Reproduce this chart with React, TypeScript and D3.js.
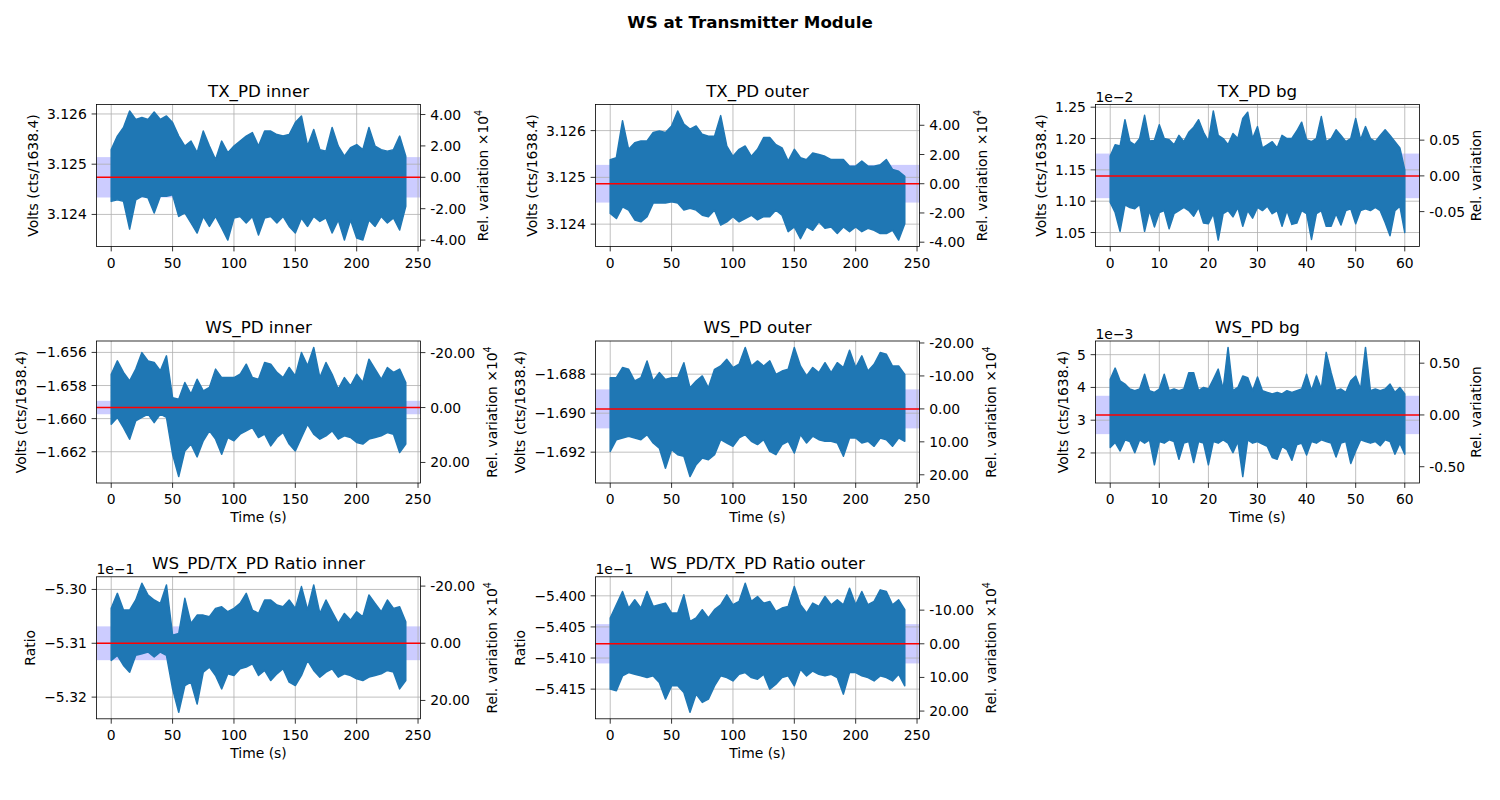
import React, { useRef, useEffect } from 'react';
import * as d3 from 'd3';

const W = 1500;
const H = 800;
const FONT = 'DejaVu Sans, sans-serif';
const BLUE = '#1f77b4';
const FS = 13.9;

// time axes (s)
const timeLong = [
  0, 5, 10, 15, 20, 25, 30, 35, 40, 45, 50, 55, 60, 65, 70, 75, 80, 85, 90, 95, 100, 105, 110, 115, 120,
  125, 130, 135, 140, 145, 150, 155, 160, 165, 170, 175, 180, 185, 190, 195, 200, 205, 210, 215, 220,
  225, 230, 235, 240,
];
const timeShort = [
  0, 1, 2, 3, 4, 5, 6, 7, 8, 9, 10, 11, 12, 13, 14, 15, 16, 17, 18, 19, 20, 21, 22, 23, 24, 25, 26, 27,
  28, 29, 30, 31, 32, 33, 34, 35, 36, 37, 38, 39, 40, 41, 42, 43, 44, 45, 46, 47, 48, 49, 50, 51, 52,
  53, 54, 55, 56, 57, 58, 59, 60,
];

// upper / lower envelope of each trace
const txInnerHi = [
  3.12529, 3.12556, 3.12573, 3.12606, 3.12589, 3.12593, 3.12589, 3.12604, 3.12589, 3.12596, 3.12583,
  3.12556, 3.12536, 3.12546, 3.12523, 3.12566, 3.12536, 3.12509, 3.12546, 3.12523, 3.12536, 3.12546,
  3.12556, 3.12563, 3.12536, 3.12566, 3.12566, 3.12559, 3.12556, 3.12559, 3.12583, 3.12596, 3.12536,
  3.12569, 3.12529, 3.12526, 3.12573, 3.12536, 3.12516, 3.12533, 3.12539, 3.12529, 3.12573, 3.12536,
  3.12529, 3.12526, 3.12529, 3.12556, 3.12516,
];
const txInnerLo = [
  3.12426, 3.12429, 3.12426, 3.12371, 3.12429, 3.12436, 3.12433, 3.12403, 3.12436, 3.12436, 3.12439,
  3.12396, 3.12403, 3.12383, 3.12363, 3.12396, 3.12376, 3.12396, 3.12373, 3.12349, 3.12393, 3.12396,
  3.12383, 3.12396, 3.12359, 3.12393, 3.12396, 3.12383, 3.12396, 3.12376, 3.12363, 3.12393, 3.12376,
  3.12396, 3.12386, 3.12393, 3.12363, 3.12389, 3.12349, 3.12389, 3.12353, 3.12349, 3.12389, 3.12376,
  3.12396, 3.12383, 3.12393, 3.12369, 3.12416,
];
const txInnerMean = 3.124739;
const txInnerStd = 0.000402;

const txOuterHi = [
  3.12538, 3.12542, 3.12621, 3.1256, 3.12574, 3.12578, 3.12578, 3.12596, 3.12599, 3.12596, 3.1261,
  3.12642, 3.12614, 3.12603, 3.1261, 3.12592, 3.12588, 3.12588, 3.12632, 3.12567, 3.12545, 3.1256,
  3.12567, 3.12545, 3.1256, 3.12585, 3.12585, 3.1257, 3.12563, 3.12535, 3.1256, 3.12542, 3.12538,
  3.12552, 3.12549, 3.12545, 3.12538, 3.12538, 3.12538, 3.12524, 3.12524, 3.12535, 3.12524, 3.12524,
  3.12527, 3.12538, 3.12517, 3.12513, 3.12502,
];
const txOuterLo = [
  3.12423, 3.12412, 3.12437, 3.1243, 3.12409, 3.12405, 3.12416, 3.12445, 3.12445, 3.12445, 3.12448,
  3.12445, 3.1243, 3.12434, 3.1243, 3.12419, 3.12416, 3.1243, 3.12398, 3.12405, 3.12416, 3.12405,
  3.12412, 3.12419, 3.12409, 3.12416, 3.12416, 3.1243, 3.12419, 3.12384, 3.12394, 3.12369, 3.12394,
  3.12387, 3.12405, 3.12391, 3.12394, 3.1238, 3.12394, 3.12384, 3.12394, 3.12384, 3.12391, 3.12387,
  3.1238, 3.1238, 3.12387, 3.12366, 3.12401,
];
const txOuterMean = 3.124864;
const txOuterStd = 0.000403;

// x 1e-2 V
const txBgHi = [
  1.172, 1.19, 1.188, 1.23, 1.195, 1.19, 1.2, 1.237, 1.196, 1.197, 1.222, 1.2, 1.198, 1.19, 1.205, 1.195,
  1.21, 1.218, 1.23, 1.21, 1.196, 1.244, 1.205, 1.2, 1.19, 1.208, 1.2, 1.232, 1.242, 1.2, 1.219, 1.185,
  1.19, 1.195, 1.185, 1.205, 1.2, 1.2, 1.212, 1.226, 1.198, 1.195, 1.2, 1.235, 1.195, 1.2, 1.214, 1.205,
  1.195, 1.2, 1.232, 1.198, 1.219, 1.2, 1.195, 1.205, 1.214, 1.205, 1.195, 1.185, 1.15,
];
const txBgLo = [
  1.098, 1.082, 1.052, 1.094, 1.09, 1.088, 1.095, 1.052, 1.085, 1.059, 1.082, 1.085, 1.056, 1.08, 1.085,
  1.09, 1.085, 1.076, 1.09, 1.065, 1.064, 1.08, 1.038, 1.08, 1.085, 1.075, 1.09, 1.06, 1.085, 1.073, 1.09,
  1.085, 1.092, 1.08, 1.085, 1.06, 1.085, 1.063, 1.065, 1.085, 1.08, 1.039, 1.08, 1.085, 1.06, 1.06, 1.08,
  1.062, 1.085, 1.088, 1.064, 1.085, 1.088, 1.085, 1.09, 1.085, 1.066, 1.045, 1.085, 1.092, 1.05,
];
const txBgMean = 1.1404;
const txBgStd = 0.0356;

const wsInnerHi = [
  -1.65732, -1.65651, -1.65721, -1.65772, -1.65701, -1.65601, -1.65651, -1.65661, -1.65711, -1.65621,
  -1.65873, -1.65883, -1.65782, -1.65852, -1.65762, -1.65832, -1.65812, -1.65701, -1.65752, -1.65752,
  -1.65752, -1.65732, -1.65671, -1.65752, -1.65762, -1.65661, -1.65671, -1.65721, -1.65752, -1.65691,
  -1.65742, -1.65601, -1.65681, -1.6557, -1.65752, -1.65661, -1.65732, -1.65822, -1.65752, -1.65802,
  -1.65732, -1.65782, -1.65641, -1.65701, -1.65762, -1.65691, -1.65721, -1.65701, -1.65782,
];
const wsInnerLo = [
  -1.66034, -1.65993, -1.66054, -1.66124, -1.66013, -1.65993, -1.65973, -1.66024, -1.65973, -1.65993,
  -1.66215, -1.6635, -1.66195, -1.66154, -1.66231, -1.66134, -1.66074, -1.66124, -1.66215, -1.66114,
  -1.66134, -1.66094, -1.66074, -1.66054, -1.66114, -1.66094, -1.66165, -1.66114, -1.66084, -1.66154,
  -1.66195, -1.66114, -1.66034, -1.66094, -1.66124, -1.66104, -1.66074, -1.66124, -1.66104, -1.66114,
  -1.66144, -1.66154, -1.66124, -1.66114, -1.66104, -1.66084, -1.66094, -1.66205, -1.66154,
];
const wsInnerMean = -1.65933;
const wsInnerStd = 0.000405;

const wsOuterHi = [
  -1.68818, -1.68818, -1.68766, -1.68775, -1.68835, -1.68818, -1.68732, -1.68835, -1.68792, -1.68827,
  -1.68818, -1.68818, -1.68741, -1.6887, -1.68835, -1.68809, -1.6887, -1.68775, -1.68758, -1.68724,
  -1.68766, -1.68749, -1.68663, -1.68758, -1.68732, -1.68758, -1.68732, -1.68801, -1.68784, -1.68775,
  -1.68663, -1.68758, -1.68809, -1.68766, -1.68792, -1.68741, -1.68792, -1.68741, -1.68766, -1.68677,
  -1.68766, -1.68706, -1.68784, -1.68749, -1.68689, -1.68698, -1.68758, -1.68758, -1.68801,
];
const wsOuterLo = [
  -1.69196, -1.69136, -1.69127, -1.69118, -1.69127, -1.69136, -1.6911, -1.69153, -1.69179, -1.69282,
  -1.69187, -1.69213, -1.69221, -1.69325, -1.69264, -1.6923, -1.69239, -1.69213, -1.69136, -1.69153,
  -1.6917, -1.69127, -1.6911, -1.69144, -1.69161, -1.69136, -1.69196, -1.69213, -1.69161, -1.69144,
  -1.69204, -1.6911, -1.69153, -1.69118, -1.69136, -1.69144, -1.69144, -1.69153, -1.69221, -1.69127,
  -1.69127, -1.69153, -1.69144, -1.6917, -1.69127, -1.69136, -1.6917, -1.69127, -1.69144,
];
const wsOuterMean = -1.68978;
const wsOuterStd = 0.001;

// x 1e-3 V
const wsBgHi = [
  4.25, 4.59, 4.2, 4.1, 3.95, 3.9, 3.95, 4.4, 3.9, 3.85, 3.95, 4.4, 3.9, 3.95, 3.9, 3.95, 4.45, 4.45, 3.9,
  4.0, 3.95, 4.25, 4.56, 3.95, 5.22, 3.9, 4.0, 4.35, 4.3, 3.9, 4.32, 3.9, 3.85, 3.8, 3.85, 3.8, 3.9, 3.85,
  3.9, 3.95, 4.4, 3.9, 4.35, 3.95, 5.07, 4.45, 3.9, 3.95, 3.85, 4.2, 4.35, 3.95, 5.22, 3.9, 3.95, 3.9,
  3.95, 4.1, 3.85, 4.0, 3.8,
];
const wsBgLo = [
  2.17, 2.32, 2.06, 2.4, 2.35, 2.01, 2.4, 2.3, 2.4, 1.64, 2.35, 2.3, 2.4, 2.35, 1.81, 2.3, 2.35, 1.71,
  2.35, 2.3, 1.64, 2.35, 2.3, 2.4, 2.3, 2.01, 2.35, 1.28, 2.4, 2.3, 2.35, 2.27, 2.2, 1.86, 1.81, 2.2, 2.1,
  1.78, 2.25, 2.3, 1.94, 2.35, 2.3, 2.4, 2.35, 2.3, 1.88, 2.3, 2.35, 1.68, 2.06, 2.4, 2.35, 2.3, 2.35,
  2.22, 2.4, 2.35, 1.96, 2.3, 1.96,
];
const wsBgMean = 3.16;
const wsBgStd = 0.585;

// x 1e-1
const ratioInnerHi = [
  -5.30352, -5.30072, -5.30383, -5.30383, -5.30196, -5.29885, -5.30103, -5.30196, -5.30259, -5.29916,
  -5.3085, -5.30819, -5.30165, -5.30632, -5.30477, -5.30477, -5.30508, -5.30352, -5.30321, -5.30414,
  -5.30352, -5.30259, -5.30072, -5.30383, -5.30446, -5.30196, -5.30196, -5.3029, -5.30321, -5.30196,
  -5.30352, -5.29947, -5.30383, -5.29916, -5.30446, -5.30196, -5.30414, -5.30632, -5.30446, -5.3057,
  -5.30414, -5.30508, -5.30103, -5.30259, -5.30414, -5.30196, -5.30352, -5.30321, -5.30601,
];
const ratioInnerLo = [
  -5.31318, -5.31224, -5.31411, -5.31536, -5.31224, -5.31193, -5.31162, -5.31255, -5.31162, -5.31224,
  -5.31847, -5.32283, -5.31785, -5.31723, -5.32128, -5.31536, -5.31442, -5.31598, -5.31847, -5.31567,
  -5.31598, -5.31473, -5.31442, -5.3138, -5.31598, -5.31505, -5.31692, -5.31567, -5.31473, -5.31723,
  -5.31785, -5.31598, -5.31318, -5.31505, -5.31629, -5.31536, -5.31473, -5.31629, -5.31567, -5.31598,
  -5.3166, -5.31692, -5.31629, -5.31598, -5.31567, -5.31505, -5.31536, -5.31847, -5.31692,
];
const ratioInnerMean = -5.31;
const ratioInnerStd = 0.00314;

const ratioOuterHi = [
  -5.40356, -5.40144, -5.39931, -5.40197, -5.40064, -5.40197, -5.39931, -5.4017, -5.40144, -5.40117,
  -5.40277, -5.40277, -5.39984, -5.4041, -5.40356, -5.40223, -5.40356, -5.40223, -5.40144, -5.39984,
  -5.40144, -5.4009, -5.39798, -5.4009, -5.40011, -5.40117, -5.4009, -5.4025, -5.40197, -5.4017,
  -5.39851, -5.40144, -5.40277, -5.40117, -5.4017, -5.40011, -5.40144, -5.40064, -5.40144, -5.39878,
  -5.40144, -5.39931, -5.40144, -5.4009, -5.39904, -5.39931, -5.40144, -5.40064, -5.40223,
];
const ratioOuterLo = [
  -5.415, -5.41527, -5.41287, -5.41234, -5.41261, -5.41287, -5.41314, -5.41287, -5.41394, -5.4166,
  -5.41447, -5.41447, -5.41553, -5.41873, -5.4158, -5.41713, -5.4166, -5.41447, -5.41287, -5.41314,
  -5.41367, -5.41261, -5.41234, -5.41314, -5.41341, -5.41261, -5.415, -5.4142, -5.41314, -5.41287,
  -5.41447, -5.41181, -5.41287, -5.41208, -5.41261, -5.41287, -5.41261, -5.41314, -5.4158, -5.41234,
  -5.41234, -5.41287, -5.41314, -5.41367, -5.41287, -5.41314, -5.41367, -5.41261, -5.41447,
];
const ratioOuterMean = -5.40771;
const ratioOuterStd = 0.00316;

// tick values
const xTicksLong = [0, 50, 100, 150, 200, 250];
const xTicksShort = [0, 10, 20, 30, 40, 50, 60];
const VOLTS = 'Volts (cts/1638.4)';

const panels = [
  { title: 'TX_PD inner', col: 0, row: 0, time: timeLong, hi: txInnerHi, lo: txInnerLo, mean: txInnerMean, std: txInnerStd,
    yTicks: [3.124, 3.125, 3.126], yDec: 3, rTicks: [-4, -2, 0, 2, 4], factor: 1e4, ylabel: VOLTS, xTicks: xTicksLong, xlabel: false, offset: '' },
  { title: 'TX_PD outer', col: 1, row: 0, time: timeLong, hi: txOuterHi, lo: txOuterLo, mean: txOuterMean, std: txOuterStd,
    yTicks: [3.124, 3.125, 3.126], yDec: 3, rTicks: [-4, -2, 0, 2, 4], factor: 1e4, ylabel: VOLTS, xTicks: xTicksLong, xlabel: false, offset: '' },
  { title: 'TX_PD bg', col: 2, row: 0, time: timeShort, hi: txBgHi, lo: txBgLo, mean: txBgMean, std: txBgStd,
    yTicks: [1.05, 1.1, 1.15, 1.2, 1.25], yDec: 2, rTicks: [-0.05, 0, 0.05], factor: 1, ylabel: VOLTS, xTicks: xTicksShort, xlabel: false, offset: '1e\u22122' },
  { title: 'WS_PD inner', col: 0, row: 1, time: timeLong, hi: wsInnerHi, lo: wsInnerLo, mean: wsInnerMean, std: wsInnerStd,
    yTicks: [-1.662, -1.66, -1.658, -1.656], yDec: 3, rTicks: [-20, 0, 20], factor: 1e4, ylabel: VOLTS, xTicks: xTicksLong, xlabel: true, offset: '' },
  { title: 'WS_PD outer', col: 1, row: 1, time: timeLong, hi: wsOuterHi, lo: wsOuterLo, mean: wsOuterMean, std: wsOuterStd,
    yTicks: [-1.692, -1.69, -1.688], yDec: 3, rTicks: [-20, -10, 0, 10, 20], factor: 1e4, ylabel: VOLTS, xTicks: xTicksLong, xlabel: true, offset: '' },
  { title: 'WS_PD bg', col: 2, row: 1, time: timeShort, hi: wsBgHi, lo: wsBgLo, mean: wsBgMean, std: wsBgStd,
    yTicks: [2, 3, 4, 5], yDec: 0, rTicks: [-0.5, 0, 0.5], factor: 1, ylabel: VOLTS, xTicks: xTicksShort, xlabel: true, offset: '1e\u22123' },
  { title: 'WS_PD/TX_PD Ratio inner', col: 0, row: 2, time: timeLong, hi: ratioInnerHi, lo: ratioInnerLo, mean: ratioInnerMean, std: ratioInnerStd,
    yTicks: [-5.32, -5.31, -5.3], yDec: 2, rTicks: [-20, 0, 20], factor: 1e4, ylabel: 'Ratio', xTicks: xTicksLong, xlabel: true, offset: '1e\u22121' },
  { title: 'WS_PD/TX_PD Ratio outer', col: 1, row: 2, time: timeLong, hi: ratioOuterHi, lo: ratioOuterLo, mean: ratioOuterMean, std: ratioOuterStd,
    yTicks: [-5.415, -5.41, -5.405, -5.4], yDec: 3, rTicks: [-10, 0, 10, 20], factor: 1e4, ylabel: 'Ratio', xTicks: xTicksLong, xlabel: true, offset: '1e\u22121' },
];

const colLeft = [96.5, 595.5, 1095.5];
const rowTop = [104.5, 341, 576.8];
const AX_W = 324;
const AX_H = 142;
const TICK = 4.9;
const PAD = 9.7;

const fmtLeft = (v: number, dec: number) => v.toFixed(dec).replace('-', '\u2212');
const fmtRight = (v: number) => (Math.abs(v) < 1e-12 ? '0.00' : v.toFixed(2));

function drawPanel(svg: any, p: any) {
  const g = svg.append('g').attr('transform', `translate(${colLeft[p.col]},${rowTop[p.row]})`);

  const [t0, t1] = d3.extent(p.time as number[]) as [number, number];
  const tp = (t1 - t0) * 0.05;
  const x = d3.scaleLinear().domain([t0 - tp, t1 + tp]).range([0, AX_W]);
  const vMin = d3.min(p.lo as number[]) as number;
  const vMax = d3.max(p.hi as number[]) as number;
  const vp = (vMax - vMin) * 0.05;
  const y = d3.scaleLinear().domain([vMin - vp, vMax + vp]).range([AX_H, 0]);
  const rel = (v: number) => (v / p.mean - 1) * p.factor;
  const yR = d3.scaleLinear().domain(y.domain().map(rel)).range([AX_H, 0]);

  g.append('rect').attr('width', AX_W).attr('height', AX_H).attr('fill', 'white');

  // +/- std band
  g.append('rect')
    .attr('x', 0)
    .attr('width', AX_W)
    .attr('y', y(p.mean + p.std))
    .attr('height', y(p.mean - p.std) - y(p.mean + p.std))
    .attr('fill', 'blue')
    .attr('fill-opacity', 0.2);

  // grid
  const grid = g.append('g').attr('stroke', '#b0b0b0').attr('stroke-width', 0.8);
  (p.xTicks as number[]).forEach((t) => {
    grid.append('line').attr('x1', x(t)).attr('x2', x(t)).attr('y1', 0).attr('y2', AX_H);
  });
  (p.yTicks as number[]).forEach((v) => {
    grid.append('line').attr('x1', 0).attr('x2', AX_W).attr('y1', y(v)).attr('y2', y(v));
  });

  // trace
  const idx = d3.range(p.time.length);
  const area = d3
    .area<number>()
    .x((i) => x(p.time[i]))
    .y0((i) => y(p.lo[i]))
    .y1((i) => y(p.hi[i]));
  g.append('path')
    .attr('d', area(idx))
    .attr('fill', BLUE)
    .attr('stroke', BLUE)
    .attr('stroke-width', 1.5)
    .attr('stroke-linejoin', 'round');

  // mean
  g.append('line')
    .attr('x1', 0)
    .attr('x2', AX_W)
    .attr('y1', y(p.mean))
    .attr('y2', y(p.mean))
    .attr('stroke', 'red')
    .attr('stroke-width', 1.5);

  // spines
  g.append('rect')
    .attr('width', AX_W)
    .attr('height', AX_H)
    .attr('fill', 'none')
    .attr('stroke', 'black')
    .attr('stroke-width', 0.8);

  const txt = (sel: any) => sel.attr('font-size', FS).attr('fill', 'black');

  // x ticks
  const xt = g.append('g');
  (p.xTicks as number[]).forEach((t) => {
    xt.append('line').attr('x1', x(t)).attr('x2', x(t)).attr('y1', AX_H).attr('y2', AX_H + TICK)
      .attr('stroke', 'black').attr('stroke-width', 0.8);
    txt(xt.append('text')).attr('x', x(t)).attr('y', AX_H + 21.3).attr('text-anchor', 'middle').text(String(t));
  });

  // left ticks
  const lt = g.append('g');
  (p.yTicks as number[]).forEach((v) => {
    g.append('line').attr('x1', -TICK).attr('x2', 0).attr('y1', y(v)).attr('y2', y(v))
      .attr('stroke', 'black').attr('stroke-width', 0.8);
    txt(lt.append('text')).attr('x', -PAD).attr('y', y(v) + 5).attr('text-anchor', 'end').text(fmtLeft(v, p.yDec));
  });

  // right ticks
  const [r0, r1] = d3.extent(yR.domain()) as [number, number];
  const rt = g.append('g');
  (p.rTicks as number[]).filter((v) => v >= r0 && v <= r1).forEach((v) => {
    g.append('line').attr('x1', AX_W).attr('x2', AX_W + TICK).attr('y1', yR(v)).attr('y2', yR(v))
      .attr('stroke', 'black').attr('stroke-width', 0.8);
    txt(rt.append('text')).attr('x', AX_W + PAD).attr('y', yR(v) + 5).attr('text-anchor', 'start').text(fmtRight(v));
  });

  // title
  g.append('text').attr('x', AX_W / 2).attr('y', -8).attr('text-anchor', 'middle').attr('font-size', 16.7).text(p.title);

  // offset text
  if (p.offset) txt(g.append('text')).attr('x', 0).attr('y', -2.5).text(p.offset);

  // x label
  if (p.xlabel) txt(g.append('text')).attr('x', AX_W / 2).attr('y', AX_H + 39).attr('text-anchor', 'middle').text('Time (s)');

  // left y label
  const lb = (lt.node() as SVGGElement).getBBox();
  const lx = lb.x - 5.6 - 3.3;
  txt(g.append('text'))
    .attr('transform', `translate(${lx},${AX_H / 2}) rotate(-90)`)
    .attr('text-anchor', 'middle')
    .text(p.ylabel);

  // right y label
  const rb = (rt.node() as SVGGElement).getBBox();
  const hasSup = p.factor !== 1;
  const rx = rb.x + rb.width + 5.6 + (hasSup ? 16 : 10.6);
  const rl = txt(g.append('text'))
    .attr('transform', `translate(${rx},${AX_H / 2}) rotate(-90)`)
    .attr('text-anchor', 'middle');
  if (hasSup) {
    rl.append('tspan').text('Rel. variation \u00d710');
    rl.append('tspan').attr('dy', -6).attr('font-size', 9.7).text('4');
  } else {
    rl.text('Rel. variation');
  }
}

export default function App() {
  const ref = useRef<SVGSVGElement>(null);

  useEffect(() => {
    const svg = d3.select(ref.current);
    svg.selectAll('*').remove();
    svg.append('rect').attr('width', W).attr('height', H).attr('fill', 'white');
    svg.append('text')
      .attr('x', W / 2)
      .attr('y', 28)
      .attr('text-anchor', 'middle')
      .attr('font-size', 16.7)
      .attr('font-weight', 'bold')
      .text('WS at Transmitter Module');
    panels.forEach((p) => drawPanel(svg, p));
  }, []);

  return (
    <svg
      ref={ref}
      width={W}
      height={H}
      fontFamily={FONT}
      style={{ position: 'absolute', left: 0, top: 0 }}
    />
  );
}
